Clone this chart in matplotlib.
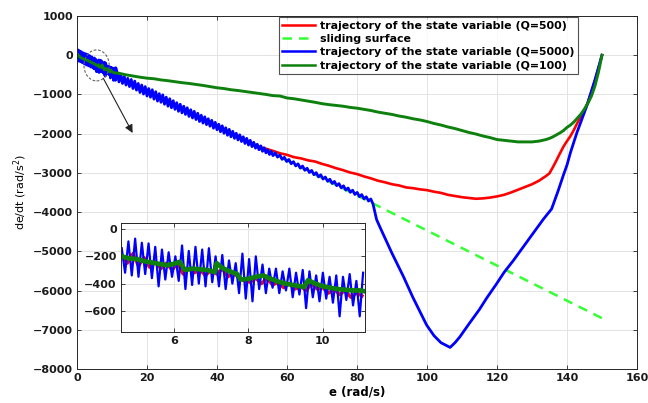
import matplotlib
matplotlib.use('Agg')
import matplotlib.pyplot as plt
import numpy as np
from matplotlib.patches import Ellipse

plt.rcParams['font.family'] = ['DejaVu Sans']
plt.rcParams['font.size'] = 8

# --- Q=5000 trajectory (blue), stored piecewise ---
blue_head_e = [0, 0.3, 0.6, 0.9, 1.2, 1.5, 1.8, 2.1, 2.4, 2.7, 3.0, 3.3, 3.6, 3.9, 4.2, 4.5]
blue_head_v = [150, -150, 120, -160, 90, -190, 60, -220, 40, -250, 20, -270, -10, -300, -40, -320]

# zoomed section, sampled every 0.09 rad/s starting at 4.6
blue_zoom_v = [-140, -320, -90, -340, -70, -350, -100, -330, -105, -360,
               -130, -420, -150, -370, -170, -350, -200, -380, -120, -440,
               -160, -410, -130, -400, -150, -420, -140, -390, -200, -420,
               -190, -440, -230, -400, -250, -470, -180, -510, -220, -530,
               -200, -440, -260, -470, -290, -430, -290, -470, -310, -450,
               -290, -500, -320, -480, -300, -580, -310, -500, -340, -530,
               -320, -510, -350, -540, -340, -640, -350, -520, -330, -560,
               -380, -640, -320]

# noisy band, sampled every 0.5 rad/s starting at 11.5
blue_mid_v = [-450, -680, -500, -720, -540, -760, -590, -800, -620, -850,
              -660, -890, -720, -950, -760, -990, -800, -1040, -850, -1070,
              -880, -1120, -930, -1170, -980, -1200, -1010, -1250, -1070, -1300,
              -1110, -1340, -1160, -1380, -1210, -1430, -1250, -1470, -1300, -1510,
              -1340, -1560, -1390, -1600, -1430, -1640, -1480, -1690, -1530, -1730,
              -1570, -1770, -1620, -1810, -1660, -1860, -1710, -1900, -1760, -1950,
              -1800, -1990, -1850, -2040, -1890, -2080, -1940, -2120, -1990, -2160,
              -2030, -2200, -2080, -2250, -2120, -2290, -2170, -2330, -2220, -2370,
              -2270, -2410, -2310, -2450, -2360, -2490, -2410, -2530, -2450, -2560]

# ripple before the break-off, sampled every 0.65 rad/s starting at 56.65
blue_ripple_v = [-2490, -2598, -2546, -2654, -2602, -2710, -2658, -2766, -2714, -2822,
                 -2770, -2878, -2826, -2934, -2882, -2990, -2938, -3046, -2994, -3102,
                 -3050, -3158, -3106, -3214, -3162, -3270, -3218, -3326, -3274, -3382,
                 -3330, -3438, -3386, -3494, -3442, -3550, -3498, -3606, -3554, -3662,
                 -3610, -3718, -3666]

blue_tail_e = [84.6, 85.6, 86.6, 90, 93.2, 96, 99.9, 102, 104, 106.6, 108, 109.4, 112, 115,
               117, 119.9, 122, 124.7, 127, 130, 133.2, 135.6, 137.5, 139, 140, 141, 142.8,
               145.6, 148, 150]
blue_tail_v = [-3800, -4190, -4390, -5050, -5630, -6180, -6880, -7150, -7330, -7450, -7330,
               -7180, -6850, -6480, -6200, -5825, -5540, -5232, -4950, -4580, -4187, -3920,
               -3450, -3050, -2800, -2480, -1983, -1306, -628, 0]

# --- Q=500 trajectory (red) ---
red_head_e = [0, 1, 2, 3, 4]
red_head_v = [60, -80, -60, -170, -150]

red_zoom_e = [4.60, 4.75, 4.90, 5.05, 5.20, 5.35, 5.50, 5.65, 5.80, 5.95, 6.10, 6.25, 6.40,
              6.55, 6.70, 6.85, 7.00, 7.15, 7.30, 7.45, 7.60, 7.75, 7.90, 8.05, 8.20, 8.35,
              8.50, 8.65, 8.80, 8.95, 9.10, 9.25, 9.40, 9.55, 9.70, 9.85, 10.00, 10.15,
              10.30, 10.45, 10.60, 10.75, 10.90, 11.05]
red_zoom_v = [-190, -250, -180, -270, -210, -280, -240, -290, -250, -300,
              -250, -330, -290, -320, -300, -340, -300, -330, -290, -350,
              -320, -360, -380, -390, -360, -400, -360, -410, -390, -430,
              -400, -440, -420, -450, -400, -440, -430, -470, -440, -480,
              -450, -500, -470, -490]

red_mid_e = [12, 16, 20, 24, 28, 32, 36, 40, 44, 48, 52]
red_mid_v = [-540, -720, -900, -1080, -1260, -1440, -1610, -1790, -1970, -2150, -2330]

red_tail_e = [56, 58, 60, 62, 64, 66, 68, 70, 72, 74, 76, 78, 80, 82, 84, 86, 88, 90, 92, 94,
              96, 98, 100, 102, 104, 106, 108, 110, 112, 114, 116, 118, 120, 122, 124, 126,
              128, 130, 132, 134, 135, 136, 137, 138, 139, 140, 141, 142, 143, 144, 145, 146,
              147, 148, 149, 150]
red_tail_v = [-2440, -2500, -2540, -2600, -2630, -2680, -2710, -2770, -2820, -2880, -2930,
              -2990, -3030, -3090, -3140, -3200, -3240, -3290, -3320, -3370, -3390, -3420,
              -3440, -3480, -3510, -3560, -3590, -3620, -3640, -3660, -3650, -3630, -3600,
              -3560, -3500, -3430, -3360, -3290, -3200, -3080, -3010, -2850, -2680, -2500,
              -2330, -2190, -2060, -1900, -1720, -1560, -1400, -1200, -930, -640, -330, 0]

# --- Q=100 trajectory (dark green) ---
green_head_e = [0, 1, 2, 3, 4]
green_head_v = [40, -60, -100, -130, -180]

green_zoom_e = [4.60, 4.80, 5.00, 5.20, 5.40, 5.60, 5.80, 6.00, 6.15, 6.30, 6.50, 6.70, 6.90,
                7.10, 7.15, 7.30, 7.50, 7.70, 7.80, 8.00, 8.20, 8.40, 8.60, 8.80, 9.00, 9.20,
                9.40, 9.50, 9.60, 9.80, 10.00, 10.20, 10.40, 10.60, 10.80, 11.00, 11.10]
green_zoom_v = [-200, -215, -220, -235, -245, -255, -265, -255, -240, -300, -290, -295, -300,
                -315, -250, -285, -310, -330, -370, -365, -350, -340, -365, -385, -400, -410,
                -420, -425, -375, -400, -420, -430, -440, -445, -450, -450, -455]

green_tail_e = list(range(12, 134, 2)) + list(range(134, 151))
green_tail_v = [-460, -500, -530, -560, -585, -600, -630, -650, -675, -700, -720, -745, -770,
                -800, -830, -850, -880, -900, -925, -950, -975, -1000, -1030, -1040, -1090,
                -1110, -1140, -1170, -1200, -1235, -1260, -1280, -1300, -1330, -1350, -1380,
                -1410, -1450, -1480, -1510, -1550, -1580, -1620, -1650, -1690, -1740, -1780,
                -1830, -1870, -1920, -1970, -2010, -2060, -2100, -2150, -2170, -2190, -2210,
                -2210, -2210, -2190,
                -2150, -2120, -2080, -2030, -1980, -1920, -1840, -1780, -1700, -1600, -1500,
                -1370, -1220, -1040, -780, -430, 0]

# --- sliding surface ---
surf_e = [0, 150]
surf_v = [0, -6705]

# assemble full series
blue_zoom_e = np.round(4.6 + 0.09 * np.arange(len(blue_zoom_v)), 2)
blue_mid_e = np.round(11.5 + 0.5 * np.arange(len(blue_mid_v)), 2)
blue_ripple_e = np.round(56.65 + 0.65 * np.arange(len(blue_ripple_v)), 2)
blue_e = np.concatenate([blue_head_e, blue_zoom_e, blue_mid_e, blue_ripple_e, blue_tail_e])
blue_v = np.concatenate([blue_head_v, blue_zoom_v, blue_mid_v, blue_ripple_v, blue_tail_v])
red_e = np.concatenate([red_head_e, red_zoom_e, red_mid_e, red_tail_e])
red_v = np.concatenate([red_head_v, red_zoom_v, red_mid_v, red_tail_v])
green_e = np.concatenate([green_head_e, green_zoom_e, green_tail_e])
green_v = np.concatenate([green_head_v, green_zoom_v, green_tail_v])

c_red = (1, 0, 0)
c_blue = (0, 0, 1)
c_green = (0.05, 0.5, 0.05)
c_surf = (0.2, 1, 0.2)
ax_col = '#262626'


def style_axes(ax):
    ax.grid(True, color='#e3e3e3', lw=0.7)
    ax.set_axisbelow(True)
    ax.tick_params(direction='in', length=3, width=0.6, colors=ax_col,
                   top=True, right=True, labelsize=8, pad=3)
    for lab in ax.get_xticklabels() + ax.get_yticklabels():
        lab.set_fontweight('bold')
        lab.set_color('#1a1a1a')
    for sp in ax.spines.values():
        sp.set_color(ax_col)
        sp.set_linewidth(0.7)


fig = plt.figure(figsize=(6.48, 4.03), dpi=100)
ax = fig.add_axes([0.1188, 0.0844, 0.8642, 0.8759])

ax.plot(red_e, red_v, color=c_red, lw=1.9, label='trajectory of the state variable (Q=500)')
ax.plot(surf_e, surf_v, color=c_surf, lw=1.8, ls=(0, (3.8, 2.8)), label='sliding surface')
ax.plot(blue_e, blue_v, color=c_blue, lw=2.0, label='trajectory of the state variable (Q=5000)')
ax.plot(green_e, green_v, color=c_green, lw=2.1, label='trajectory of the state variable (Q=100)')

ax.set_xlim(0, 160)
ax.set_ylim(-8000, 1000)
ax.set_xticks(range(0, 161, 20))
ax.set_yticks(range(-8000, 1001, 1000))
style_axes(ax)

ax.set_xlabel('e (rad/s)', fontsize=8.5, fontweight='bold', labelpad=2)
ax.set_ylabel('de/dt (rad/s$^2$)', fontsize=8, labelpad=3)

leg = ax.legend(loc='upper right', bbox_to_anchor=(0.895, 0.996),
                prop={'weight': 'bold', 'size': 7.9}, frameon=True, fancybox=False,
                handlelength=3.0, handletextpad=0.5, borderpad=0.3, labelspacing=0.3,
                borderaxespad=0)
leg.get_frame().set_edgecolor('#262626')
leg.get_frame().set_linewidth(0.8)
for h in leg.get_lines():
    h.set_linewidth(1.8)

# dashed circle around the zoomed region and pointer
ax.add_patch(Ellipse((5.6, -260), width=7.2, height=790, fill=False,
                     edgecolor='#666666', ls=(0, (2.5, 1.5)), lw=0.8, zorder=5))
ax.annotate('', xy=(15.9, -1983), xytext=(7.5, -585),
            arrowprops=dict(arrowstyle='-|>', color='#222222', lw=0.8,
                            mutation_scale=12, shrinkA=0, shrinkB=0))

# inset zoom
axi = fig.add_axes([0.1867, 0.1762, 0.3765, 0.2705])
axi.plot(red_zoom_e, red_zoom_v, color=c_red, lw=2.4)
axi.plot(blue_zoom_e, blue_zoom_v, color=c_blue, lw=1.6)
axi.plot(green_zoom_e, green_zoom_v, color=c_green, lw=3.4)
axi.set_xlim(4.58, 11.13)
axi.set_ylim(-755, 45)
axi.set_xticks([6, 8, 10])
axi.set_yticks([0, -200, -400, -600])
style_axes(axi)

fig.savefig('out.png', dpi=100)
